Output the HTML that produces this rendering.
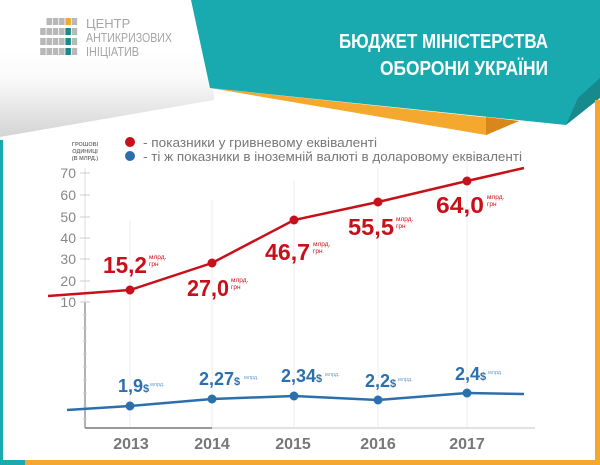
<!DOCTYPE html>
<html><head><meta charset="utf-8"><style>
html,body{margin:0;padding:0;background:#fff;}
svg{display:block;font-family:"Liberation Sans",sans-serif;}
</style></head><body>
<svg width="600" height="465" viewBox="0 0 600 465" xmlns="http://www.w3.org/2000/svg">
<defs>
<linearGradient id="sh" x1="0" y1="0" x2="0" y2="1">
<stop offset="0" stop-color="#ffffff"/><stop offset="0.3" stop-color="#fbfbfb"/><stop offset="1" stop-color="#d4d4d4"/>
</linearGradient>
</defs>
<rect width="600" height="465" fill="#fff"/>
<polygon points="0,50 212,50 214,100 0,137" fill="url(#sh)"/>
<polygon points="210,88 519,121 486,135" fill="#f5a82e"/>
<polygon points="486,117 519,121 486,135" fill="#d9861c"/>
<polygon points="191,0 600,0 600,95 566,125 210,88" fill="#19aab0"/>
<polygon points="600,78 600,98 566,125 578,98" fill="#168a8c"/>
<text x="548" y="48" fill="#fff" font-size="20" font-weight="bold" text-anchor="end" textLength="209" lengthAdjust="spacingAndGlyphs">БЮДЖЕТ МІНІСТЕРСТВА</text>
<text x="548" y="75" fill="#fff" font-size="20" font-weight="bold" text-anchor="end" textLength="168" lengthAdjust="spacingAndGlyphs">ОБОРОНИ УКРАЇНИ</text>
<rect x="595" y="100" width="5" height="365" fill="#f5a82e"/>
<rect x="0" y="140" width="3" height="325" fill="#19aab0"/>
<rect x="0" y="460" width="25" height="5" fill="#19aab0"/>
<rect x="25" y="460" width="575" height="5" fill="#f5a82e"/>
<!-- logo -->
<g fill="#b8b8b8">
<rect x="46.5" y="18" width="5.5" height="7"/><rect x="52.8" y="18" width="5.5" height="7"/><rect x="59.1" y="18" width="5.5" height="7"/><rect x="71.7" y="18" width="5.5" height="7"/>
<rect x="40.2" y="28" width="5.5" height="7"/><rect x="46.5" y="28" width="5.5" height="7"/><rect x="52.8" y="28" width="5.5" height="7"/><rect x="59.1" y="28" width="5.5" height="7"/><rect x="71.7" y="28" width="5.5" height="7"/>
<rect x="40.2" y="38" width="5.5" height="7"/><rect x="46.5" y="38" width="5.5" height="7"/><rect x="52.8" y="38" width="5.5" height="7"/><rect x="59.1" y="38" width="5.5" height="7"/><rect x="71.7" y="38" width="5.5" height="7"/>
<rect x="40.2" y="48" width="5.5" height="7"/><rect x="46.5" y="48" width="5.5" height="7"/><rect x="52.8" y="48" width="5.5" height="7"/><rect x="59.1" y="48" width="5.5" height="7"/><rect x="71.7" y="48" width="5.5" height="7"/>
</g>
<rect x="65.4" y="18" width="5.5" height="7" fill="#f5a82e"/>
<rect x="65.4" y="28" width="5.5" height="7" fill="#168a8c"/>
<rect x="65.4" y="38" width="5.5" height="7" fill="#168a8c"/>
<rect x="65.4" y="48" width="5.5" height="7" fill="#168a8c"/>
<g fill="#a6a6a6" font-size="13">
<text x="86" y="28">ЦЕНТР</text>
<text x="86" y="42" textLength="86" lengthAdjust="spacingAndGlyphs">АНТИКРИЗОВИХ</text>
<text x="86" y="56" textLength="53" lengthAdjust="spacingAndGlyphs">ІНІЦІАТИВ</text>
</g>
<g fill="#777" font-size="5.5" font-weight="bold" text-anchor="middle">
<text x="85" y="146">ГРОШОВІ</text><text x="85" y="153">ОДИНИЦІ</text><text x="85" y="160">(В МЛРД.)</text>
</g>
<circle cx="130" cy="142" r="5" fill="#c8101a"/>
<circle cx="130" cy="156" r="5" fill="#2c6fad"/>
<text x="143" y="147" font-size="13" fill="#777" textLength="234" lengthAdjust="spacingAndGlyphs">- показники у гривневому еквіваленті</text>
<text x="143" y="161" font-size="13" fill="#777" textLength="379" lengthAdjust="spacingAndGlyphs">- ті ж показники в іноземній валюті в доларовому еквіваленті</text>
<g stroke="#ececec" stroke-width="1">
<line x1="130" y1="220" x2="130" y2="428"/><line x1="212" y1="200" x2="212" y2="428"/>
<line x1="294" y1="180" x2="294" y2="428"/><line x1="378" y1="168" x2="378" y2="428"/>
<line x1="467" y1="160" x2="467" y2="428"/>
</g>
<line x1="85" y1="168" x2="85" y2="302" stroke="#ddd" stroke-width="1"/>
<line x1="85" y1="302" x2="85" y2="428" stroke="#999" stroke-width="1.5"/>
<g stroke="#ccc" stroke-width="1">
<line x1="80" y1="173" x2="90" y2="173"/><line x1="80" y1="195" x2="90" y2="195"/><line x1="80" y1="217" x2="90" y2="217"/>
<line x1="80" y1="238" x2="90" y2="238"/><line x1="80" y1="259" x2="90" y2="259"/><line x1="80" y1="281" x2="90" y2="281"/>
<line x1="80" y1="302" x2="90" y2="302"/>
<line x1="83" y1="315" x2="87" y2="315"/><line x1="83" y1="328" x2="87" y2="328"/><line x1="83" y1="341" x2="87" y2="341"/>
<line x1="83" y1="354" x2="87" y2="354"/><line x1="83" y1="367" x2="87" y2="367"/><line x1="83" y1="380" x2="87" y2="380"/>
<line x1="83" y1="393" x2="87" y2="393"/><line x1="83" y1="406" x2="87" y2="406"/><line x1="83" y1="419" x2="87" y2="419"/>
</g>
<g fill="#888" font-size="14" text-anchor="end">
<text x="76" y="178">70</text><text x="76" y="200">60</text><text x="76" y="222">50</text>
<text x="76" y="243">40</text><text x="76" y="264">30</text><text x="76" y="286">20</text><text x="76" y="307">10</text>
</g>
<line x1="85" y1="428" x2="535" y2="428" stroke="#e2e2e2" stroke-width="2"/>
<line x1="85" y1="428" x2="212" y2="428" stroke="#999" stroke-width="2"/>
<g fill="#777" font-size="16" font-weight="bold" text-anchor="middle">
<text x="131" y="449">2013</text><text x="212" y="449">2014</text><text x="293" y="449">2015</text>
<text x="378" y="449">2016</text><text x="467" y="449">2017</text>
</g>
<polyline points="48,296 130,290 212,263 294,220 378,202 467,181 524,168" fill="none" stroke="#c8101a" stroke-width="2.5"/>
<g fill="#c8101a">
<circle cx="130" cy="290" r="4.5"/><circle cx="212" cy="263" r="4.5"/><circle cx="294" cy="220" r="4.5"/>
<circle cx="378" cy="202" r="4.5"/><circle cx="467" cy="181" r="4.5"/>
</g>
<g fill="#c8101a" font-size="23" font-weight="bold">
<text x="103" y="273" textLength="44" lengthAdjust="spacingAndGlyphs">15,2</text>
<text x="187" y="296" textLength="42" lengthAdjust="spacingAndGlyphs">27,0</text>
<text x="265" y="260" textLength="45" lengthAdjust="spacingAndGlyphs">46,7</text>
<text x="348" y="235" textLength="46" lengthAdjust="spacingAndGlyphs">55,5</text>
<text x="436" y="213" textLength="48" lengthAdjust="spacingAndGlyphs">64,0</text>
</g>
<g fill="#c8101a" font-size="6.5">
<text x="149" y="259">млрд.</text><text x="149" y="266">грн</text>
<text x="231" y="282">млрд.</text><text x="231" y="289">грн</text>
<text x="313" y="246">млрд.</text><text x="313" y="253">грн</text>
<text x="396" y="221">млрд.</text><text x="396" y="228">грн</text>
<text x="487" y="199">млрд.</text><text x="487" y="206">грн</text>
</g>
<polyline points="67,410 130,406 212,399 294,396 378,400 467,393 524,394" fill="none" stroke="#2c6fad" stroke-width="2.5"/>
<g fill="#2c6fad">
<circle cx="130" cy="406" r="4.5"/><circle cx="212" cy="399" r="4.5"/><circle cx="294" cy="396" r="4.5"/>
<circle cx="378" cy="400" r="4.5"/><circle cx="467" cy="393" r="4.5"/>
</g>
<g fill="#2c6fad" font-size="18" font-weight="bold">
<text x="118" y="392">1,9<tspan font-size="11">$</tspan></text>
<text x="199" y="385">2,27<tspan font-size="11">$</tspan></text>
<text x="281" y="382">2,34<tspan font-size="11">$</tspan></text>
<text x="365" y="387">2,2<tspan font-size="11">$</tspan></text>
<text x="455" y="380">2,4<tspan font-size="11">$</tspan></text>
</g>
<g fill="#6f9fcf" font-size="5.5">
<text x="150" y="386">млрд.</text><text x="244" y="379">млрд.</text><text x="325" y="376">млрд.</text>
<text x="398" y="381">млрд.</text><text x="488" y="374">млрд.</text>
</g>
</svg>
</body></html>
